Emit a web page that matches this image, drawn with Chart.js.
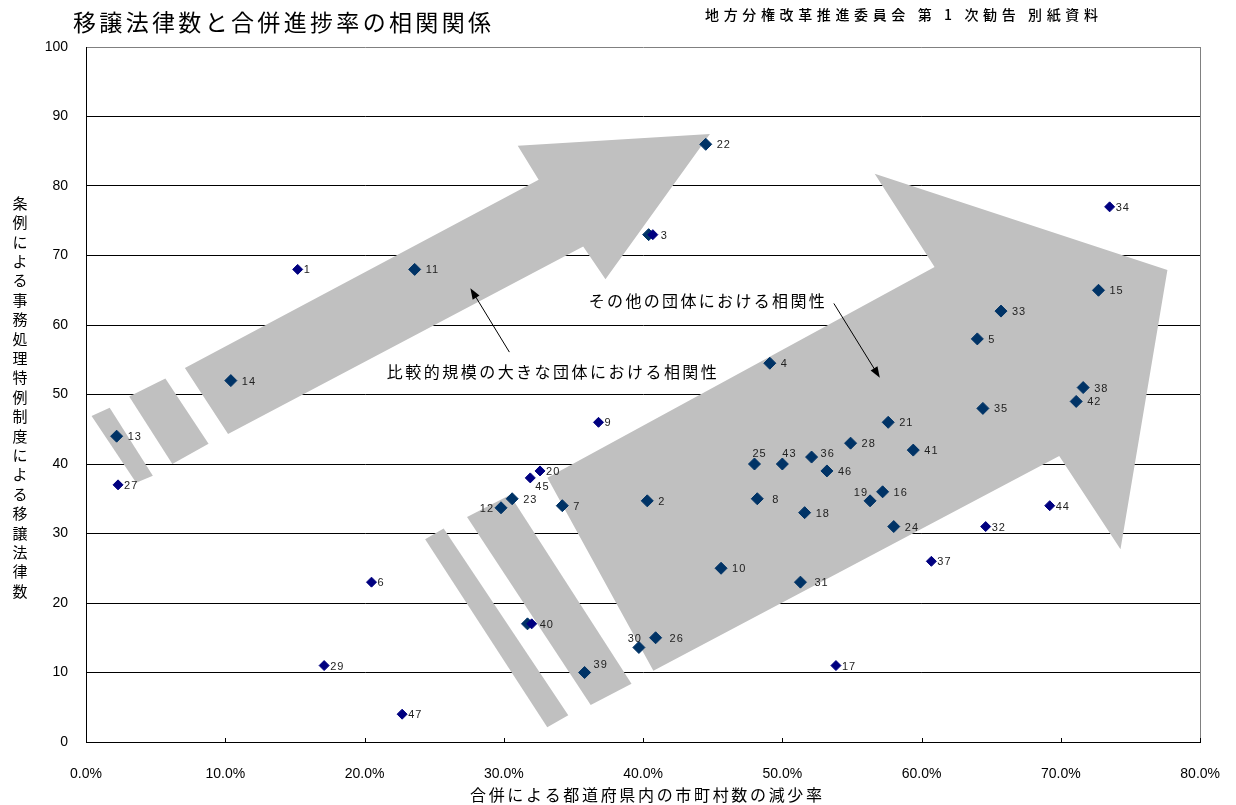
<!DOCTYPE html>
<html lang="ja">
<head>
<meta charset="utf-8">
<title>移譲法律数と合併進捗率の相関関係</title>
<script src="https://cdn.jsdelivr.net/npm/chart.js@4/dist/chart.umd.min.js"></script>
<style>
  html, body { margin: 0; padding: 0; background: #fff; }
  #wrap { width: 1236px; height: 805px; position: relative; }
</style>
</head>
<body>
<div id="wrap"><canvas id="chart" width="1236" height="805"></canvas></div>
<script>
// x: 合併による都道府県内の市町村数の減少率 (%), y: 移譲法律数
// points sitting outside the gray arrows
const navyLabels = ['1', '9', '20', '45', '27', '6', '29', '47', '17', '34', '37', '32', '44', '3', '40'];
const navyX = [15.2, 36.8, 32.6, 31.9, 2.3, 20.5, 17.1, 22.7, 53.85, 73.5, 60.7, 64.6, 69.2, 40.7, 32.0];
const navyY = [68, 46, 39, 38, 37, 23, 11, 4, 11, 77, 26, 31, 34, 73, 17];

// points drawn on the arrows
const darkLabels = ['11', '14', '22', '', '4', '15', '33', '5', '38', '42', '35', '13', '23', '12', '7', '2',
  '25', '43', '36', '46', '28', '8', '18', '19', '16', '10', '31', '', '30', '26', '39', '21', '41', '24'];
const darkX = [23.6, 10.4, 44.5, 40.4, 49.1, 72.7, 65.7, 64.0, 71.6, 71.1, 64.4, 2.2, 30.6, 29.8, 34.2, 40.3,
  48.0, 50.0, 52.1, 53.2, 54.9, 48.2, 51.6, 56.3, 57.2, 45.6, 51.3, 31.7, 39.7, 40.9, 35.8, 57.6, 59.4, 58.0];
const darkY = [68, 52, 86, 73, 54.5, 65, 62, 58, 51, 49, 48, 44, 35, 33.7, 34, 34.7,
  40, 40, 41, 39, 43, 35, 33, 34.7, 36, 25, 23, 17, 13.6, 15, 10, 46, 42, 31];

const xTicks = [0, 10, 20, 30, 40, 50, 60, 70, 80];
const yTicks = [0, 10, 20, 30, 40, 50, 60, 70, 80, 90, 100];

const titleText = '移譲法律数と合併進捗率の相関関係';
const sourceText = '地方分権改革推進委員会 第 1 次勧告 別紙資料';
const xTitle = '合併による都道府県内の市町村数の減少率';
const yTitle = '条例による事務処理特例制度による移譲法律数';
const noteBig = '比較的規模の大きな団体における相関性';
const noteOther = 'その他の団体における相関性';

// gray arrows, in data units (x %, y count)
const arrowBig = [[10.2, 44.3], [7.1, 53.8], [32.5, 80.9], [31.0, 85.8], [44.8, 87.5], [37.3, 66.6], [35.7, 71.3]];
const arrowBigTail = [
  [[0.4, 46.9], [1.7, 48.1], [4.8, 38.3], [3.6, 37.3]],
  [[3.1, 49.7], [5.7, 52.3], [8.8, 42.9], [6.2, 40.0]]
];
const arrowOther = [[40.74, 10.24], [33.13, 38.03], [60.93, 68.33], [56.63, 81.77], [77.65, 67.90], [74.28, 27.73], [69.88, 41.15]];
const arrowOtherTail = [
  [[27.36, 32.36], [30.44, 35.55], [39.17, 8.39], [36.24, 5.34]],
  [[24.35, 29.17], [25.68, 30.71], [34.63, 3.84], [33.12, 2.14]]
];

const JP = '"Noto Sans CJK JP", sans-serif';
const NUM = '"Liberation Sans", Arial, sans-serif';

// label placement tweaks (pixels)
const labelPlace = {
  '12': { dx: -7, dy: 0, align: 'right' },
  '25': { dx: -2, dy: -11 },
  '43': { dx: 0, dy: -11 },
  '45': { dx: 5, dy: 8 },
  '19': { dx: -2, dy: -9, align: 'right' },
  '30': { dx: 3, dy: -10, align: 'right' },
  '39': { dx: 9, dy: -9 },
  '36': { dx: 9, dy: -4 },
  '8': { dx: 15 }, '31': { dx: 14 }, '26': { dx: 14 }, '3': { dx: 8 }, '40': { dx: 8 }
};

function fitText(ctx, text, x, y, width, font, align) {
  ctx.save();
  ctx.font = font;
  ctx.letterSpacing = '0px';
  const w = ctx.measureText(text).width;
  const ls = (width - w) / (text.length - 1);
  ctx.letterSpacing = ls + 'px';
  ctx.textAlign = 'left';
  ctx.textBaseline = 'middle';
  ctx.fillStyle = '#000';
  let left = x;
  if (align === 'center') left = x - width / 2;
  ctx.fillText(text, left, y);
  ctx.restore();
}

function poly(ctx, xs, ys, pts) {
  ctx.beginPath();
  pts.forEach((p, i) => {
    const px = xs.getPixelForValue(p[0]), py = ys.getPixelForValue(p[1]);
    if (i === 0) ctx.moveTo(px, py); else ctx.lineTo(px, py);
  });
  ctx.closePath();
  ctx.fill();
}

function pointer(ctx, x0, y0, x1, y1) {
  const a = Math.atan2(y1 - y0, x1 - x0);
  ctx.beginPath();
  ctx.moveTo(x0, y0);
  ctx.lineTo(x1 - Math.cos(a) * 8, y1 - Math.sin(a) * 8);
  ctx.stroke();
  ctx.beginPath();
  ctx.moveTo(x1, y1);
  ctx.lineTo(x1 - Math.cos(a) * 11 + Math.sin(a) * 4, y1 - Math.sin(a) * 11 - Math.cos(a) * 4);
  ctx.lineTo(x1 - Math.cos(a) * 11 - Math.sin(a) * 4, y1 - Math.sin(a) * 11 + Math.cos(a) * 4);
  ctx.closePath();
  ctx.fill();
}

const decor = {
  id: 'decor',
  beforeDatasetsDraw(chart) {
    const ctx = chart.ctx, xs = chart.scales.x, ys = chart.scales.y;
    ctx.save();
    ctx.fillStyle = '#c0c0c0';
    poly(ctx, xs, ys, arrowBig);
    arrowBigTail.forEach(p => poly(ctx, xs, ys, p));
    poly(ctx, xs, ys, arrowOther);
    arrowOtherTail.forEach(p => poly(ctx, xs, ys, p));
    ctx.restore();
  },
  afterDatasetsDraw(chart) {
    const ctx = chart.ctx;
    ctx.save();
    ctx.font = '11px ' + NUM;
    ctx.letterSpacing = '1px';
    ctx.fillStyle = '#222';
    ctx.textBaseline = 'middle';
    chart.data.datasets.forEach((ds, di) => {
      const meta = chart.getDatasetMeta(di);
      meta.data.forEach((el, i) => {
        const lab = ds.labels[i];
        if (!lab) return;
        const pl = labelPlace[lab] || {};
        const dx = pl.dx !== undefined ? pl.dx : (di === 0 ? 6 : 11);
        ctx.textAlign = pl.align || 'left';
        ctx.fillText(lab, el.x + dx, el.y + 1 + (pl.dy || 0));
      });
    });
    ctx.restore();
  },
  afterDraw(chart) {
    const ctx = chart.ctx, xs = chart.scales.x, ys = chart.scales.y, a = chart.chartArea;
    ctx.save();
    // right border
    ctx.strokeStyle = '#808080';
    ctx.lineWidth = 1;
    ctx.beginPath();
    ctx.moveTo(Math.round(a.right) + 0.5, a.top);
    ctx.lineTo(Math.round(a.right) + 0.5, a.bottom);
    ctx.stroke();
    // x tick marks, inside
    ctx.strokeStyle = '#000';
    xTicks.forEach(v => {
      const px = Math.round(xs.getPixelForValue(v)) + 0.5;
      ctx.beginPath();
      ctx.moveTo(px, a.bottom - 4);
      ctx.lineTo(px, a.bottom);
      ctx.stroke();
    });

    // titles
    fitText(ctx, titleText, 73, 22, 418, '23px ' + JP);
    fitText(ctx, sourceText, 705, 15, 393, '500 14px ' + JP);
    fitText(ctx, xTitle, 646, 795, 352, '16px ' + JP, 'center');

    ctx.font = '15px ' + JP;
    ctx.fillStyle = '#000';
    ctx.textAlign = 'center';
    ctx.textBaseline = 'middle';
    Array.from(yTitle).forEach((ch, i) => ctx.fillText(ch, 20, 203 + i * 19.4));

    // notes with pointers
    fitText(ctx, noteBig, xs.getPixelForValue(21.6), ys.getPixelForValue(53.3), 330, '16px ' + JP);
    fitText(ctx, noteOther, xs.getPixelForValue(36.1), ys.getPixelForValue(63.4), 236, '16px ' + JP);
    ctx.strokeStyle = '#000';
    ctx.fillStyle = '#000';
    ctx.lineWidth = 1;
    pointer(ctx, xs.getPixelForValue(30.4), ys.getPixelForValue(56.1), xs.getPixelForValue(27.6), ys.getPixelForValue(65.3));
    pointer(ctx, xs.getPixelForValue(53.7), ys.getPixelForValue(63.1), xs.getPixelForValue(57.0), ys.getPixelForValue(52.4));
    ctx.restore();
  }
};

new Chart(document.getElementById('chart'), {
  type: 'scatter',
  data: {
    datasets: [
      {
        data: navyX.map((x, i) => ({ x, y: navyY[i] })),
        labels: navyLabels,
        pointStyle: 'rectRot',
        pointRadius: 5,
        pointHoverRadius: 5,
        backgroundColor: '#000080',
        borderColor: '#000080',
        borderWidth: 1
      },
      {
        data: darkX.map((x, i) => ({ x, y: darkY[i] })),
        labels: darkLabels,
        pointStyle: 'rectRot',
        pointRadius: 6,
        pointHoverRadius: 6,
        backgroundColor: '#003366',
        borderColor: '#003366',
        borderWidth: 1
      }
    ]
  },
  options: {
    responsive: false,
    animation: false,
    events: [],
    layout: { padding: { top: 47, right: 31, left: 0, bottom: 0 } },
    plugins: {
      legend: { display: false },
      title: { display: false },
      tooltip: { enabled: false }
    },
    scales: {
      x: {
        type: 'linear',
        min: 0,
        max: 80,
        afterFit: s => { s.height = 63; },
        afterBuildTicks: s => { s.ticks = xTicks.map(v => ({ value: v })); },
        ticks: {
          callback: v => v.toFixed(1) + '%',
          font: { family: NUM, size: 14 },
          color: '#000',
          padding: 16,
          maxRotation: 0
        },
        grid: { display: false },
        border: { display: true, color: '#000', width: 1 }
      },
      y: {
        min: 0,
        max: 100,
        afterFit: s => { s.width = 86; },
        afterBuildTicks: s => { s.ticks = yTicks.map(v => ({ value: v })); },
        ticks: {
          font: { family: NUM, size: 14 },
          color: '#000',
          padding: 18
        },
        grid: {
          color: c => (c.tick && c.tick.value === 100 ? '#808080' : '#000'),
          lineWidth: 1,
          drawTicks: false
        },
        border: { display: true, color: '#000', width: 1 }
      }
    }
  },
  plugins: [decor]
});
</script>
</body>
</html>
